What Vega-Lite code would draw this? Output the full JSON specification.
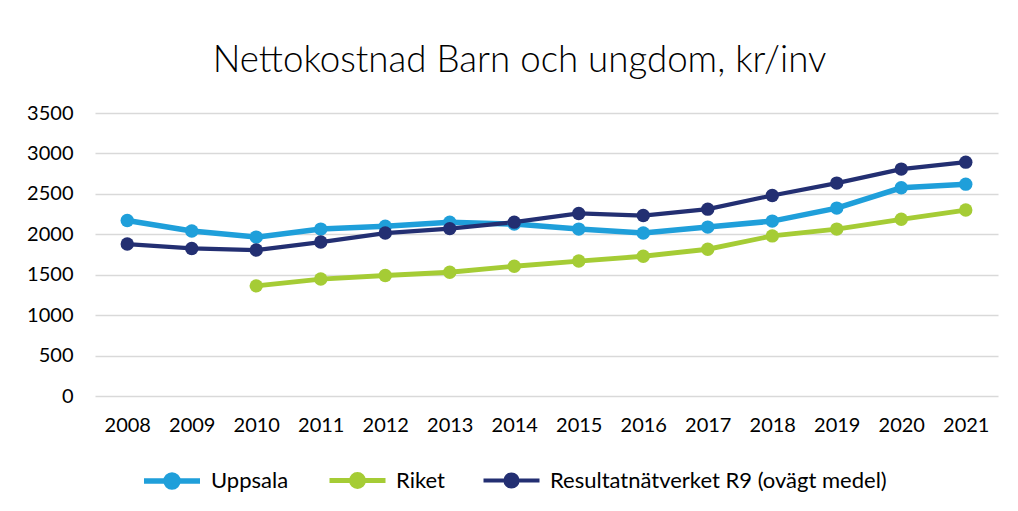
{
  "$schema": "https://vega.github.io/schema/vega-lite/v6.json",
  "width": 903,
  "height": 283,
  "autosize": {"type": "pad"},
  "padding": {"top": 43, "left": 26, "right": 18, "bottom": 10},
  "background": "white",
  "title": {
    "text": "Nettokostnad Barn och ungdom, kr/inv",
    "font": "Lato",
    "fontSize": 36.7,
    "fontWeight": 300,
    "color": "#000000",
    "anchor": "middle",
    "dx": -27,
    "offset": 23
  },
  "config": {
    "view": {"stroke": null},
    "font": "Lato"
  },
  "data": {
    "values": [
      {"year": "2008", "series": "Uppsala", "value": 2170},
      {"year": "2009", "series": "Uppsala", "value": 2040},
      {"year": "2010", "series": "Uppsala", "value": 1965},
      {"year": "2011", "series": "Uppsala", "value": 2064},
      {"year": "2012", "series": "Uppsala", "value": 2100},
      {"year": "2013", "series": "Uppsala", "value": 2150},
      {"year": "2014", "series": "Uppsala", "value": 2126},
      {"year": "2015", "series": "Uppsala", "value": 2064},
      {"year": "2016", "series": "Uppsala", "value": 2015},
      {"year": "2017", "series": "Uppsala", "value": 2089},
      {"year": "2018", "series": "Uppsala", "value": 2163},
      {"year": "2019", "series": "Uppsala", "value": 2324},
      {"year": "2020", "series": "Uppsala", "value": 2575},
      {"year": "2021", "series": "Uppsala", "value": 2620},
      {"year": "2010", "series": "Riket", "value": 1362},
      {"year": "2011", "series": "Riket", "value": 1446},
      {"year": "2012", "series": "Riket", "value": 1490},
      {"year": "2013", "series": "Riket", "value": 1530},
      {"year": "2014", "series": "Riket", "value": 1605},
      {"year": "2015", "series": "Riket", "value": 1669},
      {"year": "2016", "series": "Riket", "value": 1728},
      {"year": "2017", "series": "Riket", "value": 1815},
      {"year": "2018", "series": "Riket", "value": 1980},
      {"year": "2019", "series": "Riket", "value": 2064},
      {"year": "2020", "series": "Riket", "value": 2185},
      {"year": "2021", "series": "Riket", "value": 2300},
      {"year": "2008", "series": "Resultatnätverket R9 (ovägt medel)", "value": 1879},
      {"year": "2009", "series": "Resultatnätverket R9 (ovägt medel)", "value": 1825},
      {"year": "2010", "series": "Resultatnätverket R9 (ovägt medel)", "value": 1805},
      {"year": "2011", "series": "Resultatnätverket R9 (ovägt medel)", "value": 1904},
      {"year": "2012", "series": "Resultatnätverket R9 (ovägt medel)", "value": 2015},
      {"year": "2013", "series": "Resultatnätverket R9 (ovägt medel)", "value": 2070},
      {"year": "2014", "series": "Resultatnätverket R9 (ovägt medel)", "value": 2150},
      {"year": "2015", "series": "Resultatnätverket R9 (ovägt medel)", "value": 2258},
      {"year": "2016", "series": "Resultatnätverket R9 (ovägt medel)", "value": 2232},
      {"year": "2017", "series": "Resultatnätverket R9 (ovägt medel)", "value": 2311},
      {"year": "2018", "series": "Resultatnätverket R9 (ovägt medel)", "value": 2480},
      {"year": "2019", "series": "Resultatnätverket R9 (ovägt medel)", "value": 2633},
      {"year": "2020", "series": "Resultatnätverket R9 (ovägt medel)", "value": 2806},
      {"year": "2021", "series": "Resultatnätverket R9 (ovägt medel)", "value": 2892}
    ]
  },
  "encoding": {
    "x": {
      "field": "year",
      "type": "ordinal",
      "scale": {"type": "point", "padding": 0.5},
      "axis": {
        "title": null,
        "labelAngle": 0,
        "labelFontSize": 20,
        "labelColor": "#000000",
        "labelPadding": 19,
        "ticks": false,
        "domain": false,
        "grid": false
      }
    },
    "y": {
      "field": "value",
      "type": "quantitative",
      "scale": {"domain": [0, 3500], "nice": false},
      "axis": {
        "title": null,
        "format": "d",
        "values": [0, 500, 1000, 1500, 2000, 2500, 3000, 3500],
        "labelFontSize": 20,
        "labelColor": "#000000",
        "labelPadding": 22,
        "ticks": false,
        "domain": false,
        "grid": true,
        "gridColor": "#d9d9d9",
        "gridWidth": 1.5
      }
    },
    "color": {
      "field": "series",
      "type": "nominal",
      "scale": {
        "domain": ["Uppsala", "Riket", "Resultatnätverket R9 (ovägt medel)"],
        "range": ["#1f9fda", "#a5cc35", "#232f72"]
      },
      "legend": {
        "orient": "none",
        "legendX": 64,
        "legendY": 355,
        "title": null,
        "direction": "horizontal",
        "gridAlign": "none",
        "labelFontSize": 22,
        "labelLimit": 0,
        "labelColor": "#000000",
        "symbolType": "M-2.8,0L2.8,0M-0.6,0A0.6,0.6 0 1,0 0.6,0A0.6,0.6 0 1,0 -0.6,0Z",
        "symbolSize": 400,
        "symbolStrokeWidth": 4.2,
        "labelOffset": 26,
        "columnPadding": 30,
        "encode": {
          "symbols": {
            "update": {
              "fill": {"scale": "color", "field": "value"},
              "stroke": {"scale": "color", "field": "value"},
              "fillOpacity": {"value": 1}
            }
          }
        }
      }
    }
  },
  "layer": [
    {
      "mark": {"type": "line"},
      "encoding": {
        "strokeWidth": {
          "field": "series",
          "type": "nominal",
          "scale": {
            "domain": ["Uppsala", "Riket", "Resultatnätverket R9 (ovägt medel)"],
            "range": [5.5, 4.2, 3.5]
          },
          "legend": null
        }
      }
    },
    {
      "mark": {"type": "point", "filled": true, "opacity": 1, "size": 180},
      "encoding": {}
    }
  ]
}
